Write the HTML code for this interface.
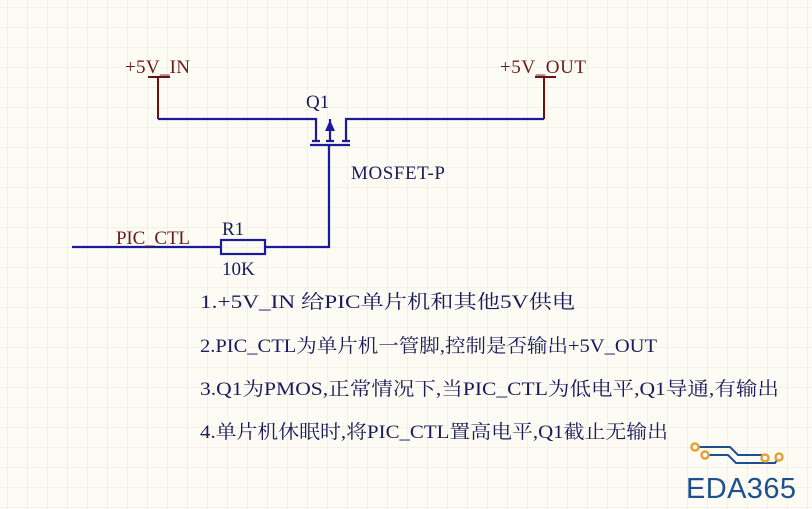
<!DOCTYPE html>
<html><head><meta charset="utf-8"><style>
body{margin:0;width:812px;height:509px;overflow:hidden;background:#fdfcf4;}
svg{display:block}
</style></head><body>
<svg width="812" height="509" xmlns="http://www.w3.org/2000/svg">
<defs><pattern id="g" width="20" height="20" patternUnits="userSpaceOnUse" x="8" y="8"><path d="M20 0V20M0 20H20" stroke="#ece9dc" stroke-width="1" fill="none"/></pattern></defs>
<rect width="812" height="509" fill="url(#g)"/>
<g stroke="#6a1010" stroke-width="2" fill="none">
<path d="M148 77H170M158 77V119"/>
<path d="M535 77H556M544 77V119"/>
</g>
<g stroke="#1a1a9a" stroke-width="2.2" fill="none">
<path d="M158 119H316V141M312 141H320"/>
<path d="M544 119H346V141M342 141H350"/>
<path d="M330 119V141M326 141H334"/>
<path d="M310 145H350"/>
<path d="M329 145V247H265"/>
<rect x="221" y="240" width="44" height="14"/>
<path d="M72 247H221"/>
</g>
<polygon points="330,120 325,131 335,131" fill="#1a1a9a"/>
<g font-family="Liberation Serif, serif" font-size="19">
<text x="125" y="73" fill="#6a1a1a" textLength="65">+5V_IN</text>
<text x="500" y="73" fill="#6a1a1a" textLength="86">+5V_OUT</text>
<text x="116" y="244" fill="#6a1a1a" textLength="74">PIC_CTL</text>
<text x="306" y="108" fill="#1a1a5a">Q1</text>
<text x="351" y="179" fill="#1a1a5a" textLength="94">MOSFET-P</text>
<text x="222" y="235" fill="#1a1a5a">R1</text>
<text x="222" y="275" fill="#1a1a5a">10K</text>
</g>
<g font-family="Liberation Serif, 'Noto Serif CJK SC', serif" font-size="19" fill="#1a1a5a">
<text x="200" y="308" textLength="375" lengthAdjust="spacingAndGlyphs">1.+5V_IN 给PIC单片机和其他5V供电</text>
<text x="200" y="352" textLength="457" lengthAdjust="spacingAndGlyphs">2.PIC_CTL为单片机一管脚,控制是否输出+5V_OUT</text>
<text x="200" y="395" textLength="579" lengthAdjust="spacingAndGlyphs">3.Q1为PMOS,正常情况下,当PIC_CTL为低电平,Q1导通,有输出</text>
<text x="200" y="438" textLength="468" lengthAdjust="spacingAndGlyphs">4.单片机休眠时,将PIC_CTL置高电平,Q1截止无输出</text>
</g>
<g stroke="#1d4f91" stroke-width="2" fill="none">
<path d="M695 447H730L738 455H765"/>
<path d="M703 455H728L736 463H775L779 457"/>
</g>
<g fill="#fff" stroke="#e8a030" stroke-width="2.5">
<circle cx="695" cy="447" r="3.5"/><circle cx="705" cy="455" r="3.5"/>
<circle cx="765" cy="458" r="3.5"/><circle cx="779" cy="457" r="3.5"/>
</g>
<text x="686" y="498" font-family="Liberation Sans, sans-serif" font-size="29" fill="#1d4f91" textLength="110">EDA365</text>
</svg>
</body></html>
